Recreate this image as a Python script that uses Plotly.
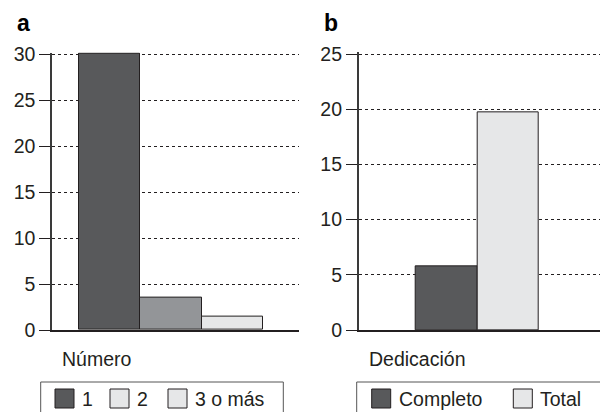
import plotly.graph_objects as go

# ---- data ----
numero_cats = ["1", "2", "3 o más"]
numero_vals = [30, 3.5, 1.5]
numero_colors = ["#58595b", "#939598", "#e6e7e8"]
numero_legend_colors = ["#58595b", "#e6e7e8", "#e6e7e8"]

dedic_cats = ["Completo", "Total"]
dedic_vals = [5.8, 19.7]
dedic_colors = ["#58595b", "#e6e7e8"]

ticks_a = [0, 5, 10, 15, 20, 25, 30]
ticks_b = [0, 5, 10, 15, 20, 25]

# the page body has an 8px margin; the figure is sized to fill the rest
OFF = 8
W, H = 608 - OFF, 412 - OFF
DARK = "#231f20"
FONT = "Liberation Sans, Arial, sans-serif"
FS = 19.5


def px(x):
    return (x - OFF) / W


def py(y):
    return 1 - (y - OFF) / H


fig = go.Figure()
fig.add_trace(go.Bar(x=numero_cats, y=numero_vals, width=1,
                     marker=dict(color=numero_colors, line=dict(color=DARK, width=1)),
                     xaxis="x", yaxis="y", showlegend=False, hoverinfo="skip"))
fig.add_trace(go.Bar(x=dedic_cats, y=dedic_vals, width=1,
                     marker=dict(color=dedic_colors, line=dict(color=DARK, width=1)),
                     xaxis="x2", yaxis="y2", showlegend=False, hoverinfo="skip"))

# small headroom so the top gridline is drawn
EXTRA = 0.15
common_y = dict(showline=True, linecolor="#3a3a3a", linewidth=1.5, ticks="outside",
                ticklen=11, tickcolor=DARK, tickwidth=1.2, showgrid=True,
                gridcolor=DARK, gridwidth=1, griddash="dot", zeroline=False,
                automargin=False,
                tickfont=dict(family=FONT, size=FS, color=DARK))
common_x = dict(type="category", showline=True, linecolor=DARK, linewidth=1.5,
                showticklabels=False, ticks="", showgrid=False, zeroline=False,
                automargin=False)

pxu_a = 276 / 30
pxu_b = 276 / 25

fig.update_layout(
    width=W, height=H, margin=dict(l=0, r=0, t=0, b=0, autoexpand=False),
    paper_bgcolor="white", plot_bgcolor="white", bargap=0, showlegend=False,
    xaxis=dict(common_x, domain=[px(52), px(299)], range=[-0.94, 3.09], anchor="y"),
    yaxis=dict(common_y, range=[0, 30 + EXTRA], tickvals=ticks_a, anchor="x",
               domain=[py(330), py(54 - EXTRA * pxu_a)]),
    xaxis2=dict(common_x, domain=[px(358.7), 1.0], range=[-1.435, 2.63], anchor="y2"),
    yaxis2=dict(common_y, range=[0, 25 + EXTRA], tickvals=ticks_b, anchor="x2",
                domain=[py(330), py(54 - EXTRA * pxu_b)]),
    font=dict(family=FONT, size=FS, color=DARK),
)

ann = []
shapes = []
# panel letters
ann.append(dict(text="<b>a</b>", x=px(15), y=py(23), xref="paper", yref="paper",
                xanchor="left", yanchor="middle", showarrow=False,
                font=dict(size=23, family=FONT, color="#000")))
ann.append(dict(text="<b>b</b>", x=px(321.5), y=py(23), xref="paper", yref="paper",
                xanchor="left", yanchor="middle", showarrow=False,
                font=dict(size=23, family=FONT, color="#000")))
# axis titles
ann.append(dict(text="Número", x=px(60), y=py(358.5), xref="paper", yref="paper",
                xanchor="left", yanchor="middle", showarrow=False))
ann.append(dict(text="Dedicación", x=px(367), y=py(358.5), xref="paper", yref="paper",
                xanchor="left", yanchor="middle", showarrow=False))

# legend boxes
shapes.append(dict(type="rect", xref="paper", yref="paper", x0=px(40.7), x1=px(283.3),
                   y0=py(430), y1=py(382), line=dict(color="#555", width=1), fillcolor="rgba(0,0,0,0)"))
shapes.append(dict(type="rect", xref="paper", yref="paper", x0=px(356.7), x1=px(600.7),
                   y0=py(430), y1=py(382), line=dict(color="#555", width=1), fillcolor="rgba(0,0,0,0)"))

sw_a = [55, 110, 168]
for xs, lab, col in zip(sw_a, numero_cats, numero_legend_colors):
    shapes.append(dict(type="rect", xref="paper", yref="paper", x0=px(xs), x1=px(xs + 19),
                       y0=py(408), y1=py(389), line=dict(color=DARK, width=1), fillcolor=col))
    ann.append(dict(text=lab, x=px(xs + 25), y=py(399), xref="paper", yref="paper",
                    xanchor="left", yanchor="middle", showarrow=False))
sw_b = [371.7, 513.3]
for xs, lab, col in zip(sw_b, dedic_cats, dedic_colors):
    shapes.append(dict(type="rect", xref="paper", yref="paper", x0=px(xs), x1=px(xs + 19),
                       y0=py(408), y1=py(389), line=dict(color=DARK, width=1), fillcolor=col))
    ann.append(dict(text=lab, x=px(xs + 25), y=py(399), xref="paper", yref="paper",
                    xanchor="left", yanchor="middle", showarrow=False))

fig.update_layout(annotations=ann, shapes=shapes)
fig.write_html("out.html")
